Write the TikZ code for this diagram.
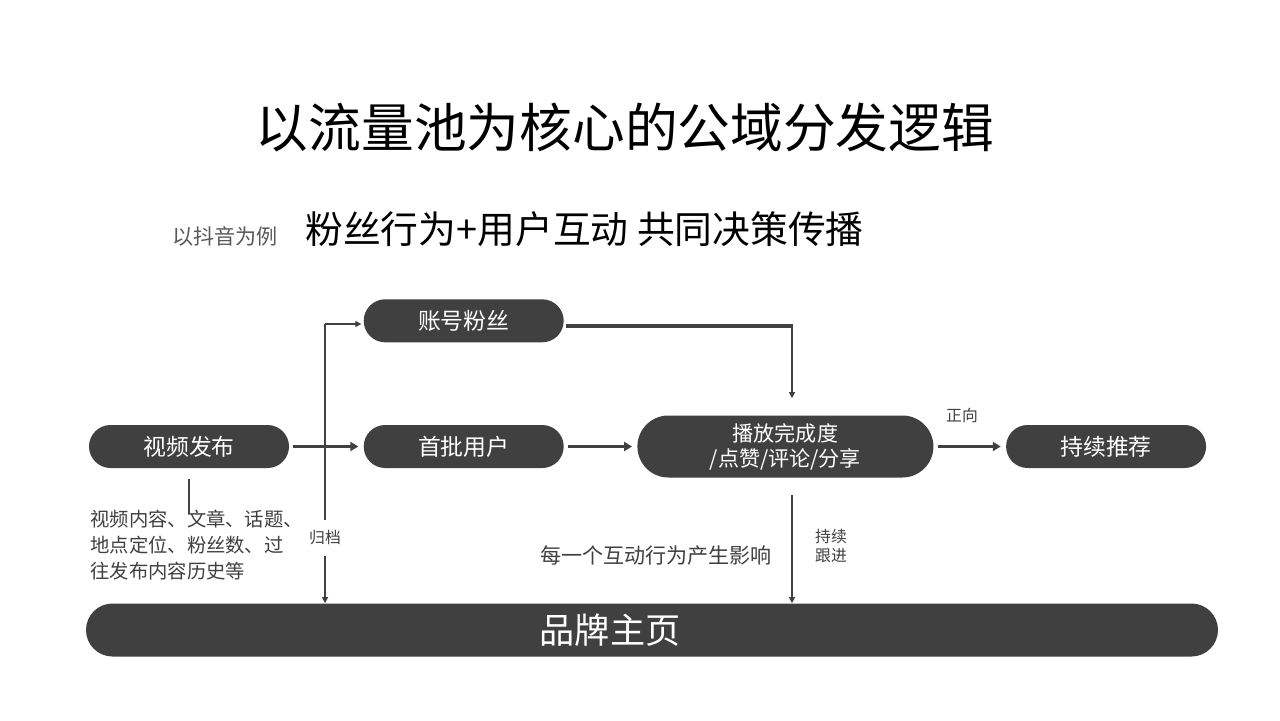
\documentclass[tikz,border=0pt]{standalone}
\usepackage{fontspec}
\setmainfont{Noto Sans CJK SC}
\usepackage{tikz}
\usetikzlibrary{arrows.meta, positioning}
\definecolor{pillgray}{RGB}{64, 64, 64}
\definecolor{notegray}{RGB}{89, 89, 89}

\begin{document}
\begin{tikzpicture}[
      pill/.style={rounded corners=0.43cm, fill=pillgray, text=white, inner sep=0pt,
                   minimum width=4cm, minimum height=0.86cm, font=\fontsize{13pt}{15pt}\selectfont},
      note/.style={text=pillgray, align=left, inner sep=1pt, font=\fontsize{9pt}{10.8pt}\selectfont},
      bigarr/.style={-{Triangle[length=0.16cm, width=0.18cm]}, line width=1.7pt, pillgray,
                     shorten <=0.08cm, shorten >=0.1cm},
      thinarr/.style={-{Triangle[length=0.12cm, width=0.12cm]}, line width=0.7pt, pillgray}
    ]
    \fill[white] (0,0) rectangle (25.6,-14.4);
    \useasboundingbox (0,0) rectangle (25.6,-14.4);

    %% Heading
    \node[font=\fontsize{30pt}{36pt}\selectfont] (title) at (12.5,-2.56) {以流量池为核心的公域分发逻辑};
    \node[text=notegray, font=\fontsize{12pt}{14pt}\selectfont] (eg) at (4.5,-4.72) {以抖音为例};
    \node[anchor=west, inner sep=0pt, font=\fontsize{21.5pt}{26pt}\selectfont] (slogan) at (6.1,-4.58)
      {粉丝行为+用户互动 共同决策传播};

    %% Flow
    \node[pill] (pub) at (3.78,-8.93) {视频发布};
    \node[pill, right=1.48cm of pub] (first) {首批用户};
    \node[pill, right=1.46cm of first, minimum width=5.92cm, minimum height=1.24cm,
          rounded corners=0.62cm, align=center, font=\fontsize{12pt}{14.2pt}\selectfont] (play)
      {播放完成度\\/点赞/评论/分享};
    \node[pill, right=1.44cm of play] (rec) {持续推荐};
    \node[pill, above=1.64cm of first] (fans) {账号粉丝};
    \node[pill, minimum width=22.64cm, minimum height=1.06cm, rounded corners=0.53cm,
          font=\fontsize{20pt}{24pt}\selectfont] (brand) at (13.04,-12.6) {品牌主页\hspace*{1.68cm}};

    \coordinate (fork) at (15.84,-6.52);
    \coordinate (arch) at (6.5,-6.48);
    \coordinate (descpin) at (3.78,-10.28);

    \draw[bigarr] (pub) -- (first);
    \draw[bigarr] (first) -- (play);
    \draw[bigarr] (play) -- (rec);
    \draw[line width=2pt, pillgray, shorten <=0.04cm] (fans.east |- fork) -- ([xshift=0.35pt]fork);
    \draw[thinarr, shorten >=0.34cm] (fork) -- (fork |- play.north);
    \draw[thinarr, shorten >=0.04cm] (arch) -- (arch -| fans.west);
    \draw[thinarr] (arch) -- (arch |- brand.north);
    \draw[thinarr, shorten <=0.34cm] (play.south -| fork) -- (brand.north -| fork);
    \draw[line width=0.7pt, pillgray, shorten <=0.22cm] (pub.south) -- (descpin);

    %% Notes
    \node[note, fill=white, inner ysep=0.22cm] (archlbl) at (6.5,-10.76) {归档};
    \node[note] (posi) at (19.24,-8.3) {正向};
    \node[note] (follow) at (16.62,-10.92) {持续\\跟进};
    \node[text=pillgray, font=\fontsize{12pt}{14pt}\selectfont] (effect) at (13.12,-11.1)
      {每一个互动行为产生影响};
    \node[anchor=north west, align=left, text=pillgray, inner sep=0pt,
          font=\fontsize{11pt}{14.7pt}\selectfont] (desc) at (1.8,-10.2)
      {视频内容、文章、话题、\\地点定位、粉丝数、过\\往发布内容历史等};
  \end{tikzpicture}
\end{document}
